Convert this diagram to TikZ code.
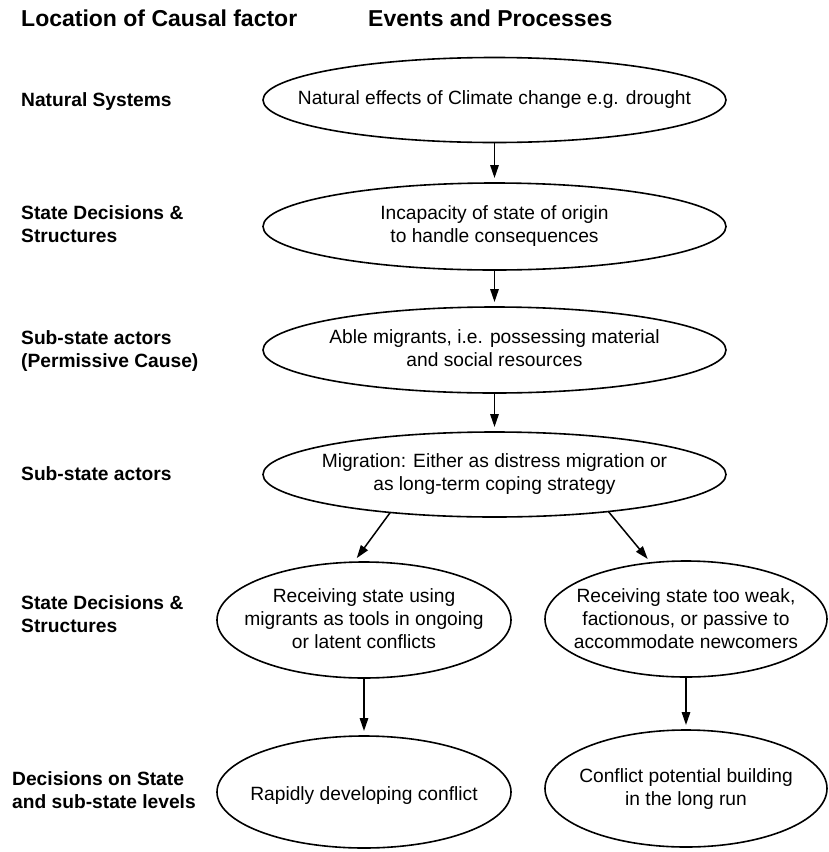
\documentclass[tikz,border=0pt]{standalone}
\usepackage{fontspec}
\setmainfont{Liberation Sans}
\usetikzlibrary{shapes.geometric,arrows.meta}
\begin{document}
\begin{tikzpicture}[x=1pt,y=-1pt,
  ev/.style={draw, ellipse, line width=1.6pt, inner sep=0pt, outer sep=0pt},
  txt/.style={align=center, inner sep=0pt, font=\fontsize{19.2}{23}\selectfont},
  lab/.style={anchor=west, align=left, inner sep=0pt, font=\fontsize{19.2}{23}\selectfont\bfseries},
  head/.style={anchor=west, inner sep=0pt, font=\fontsize{23}{27}\selectfont\bfseries},
  arr/.style={-{Triangle[length=13pt,width=8.5pt]}, line width=1.5pt, shorten >=5pt}]
\useasboundingbox (0,0) rectangle (828,852);

% headers
\node[head] (h1) at (21,18) {Location of Causal factor};
\node[head] (h2) at (368,18) {Events and Processes};

% left labels
\node[lab] (l1) at (21,102) {Natural Systems};
\node[lab] (l2) at (21,224) {State Decisions \&\\Structures};
\node[lab] (l3) at (21,351) {Sub-state actors\\(Permissive Cause)};
\node[lab] (l4) at (21,474) {Sub-state actors};
\node[lab] (l5) at (21,614.5) {State Decisions \&\\Structures};
\node[lab] (l6) at (12,790.5) {Decisions on State\\and sub-state levels};

% ellipses
\node[ev, minimum width=463pt, minimum height=85pt] (e1) at (494.5,100) {};
\node[ev, minimum width=463pt, minimum height=87pt] (e2) at (494.5,226.5) {};
\node[ev, minimum width=463pt, minimum height=86pt] (e3) at (494.5,350) {};
\node[ev, minimum width=463pt, minimum height=85pt] (e4) at (494.5,474.5) {};
\node[ev, minimum width=294pt, minimum height=116pt] (e5l) at (364,620) {};
\node[ev, minimum width=282pt, minimum height=116pt] (e5r) at (686,619) {};
\node[ev, minimum width=294pt, minimum height=112pt] (e6l) at (364,792) {};
\node[ev, minimum width=282pt, minimum height=117pt] (e6r) at (686,788.5) {};

% texts
\node[txt] (t1) at (e1) {Natural effects of Climate change e.g. drought};
\node[txt] (t2) at (e2) {Incapacity of state of origin\\to handle consequences};
\node[txt] (t3) at ([yshift=2pt]e3.center) {Able migrants, i.e. possessing material\\and social resources};
\node[txt] (t4) at (e4) {Migration: Either as distress migration or\\as long-term coping strategy};
\node[txt] (t5l) at ([yshift=1.5pt]e5l.center) {Receiving state using\\migrants as tools in ongoing\\or latent conflicts};
\node[txt] (t5r) at (e5r) {Receiving state too weak,\\factionous, or passive to\\accommodate newcomers};
\node[txt] (t6l) at ([yshift=-4pt]e6l.center) {Rapidly developing conflict};
\node[txt] (t6r) at ([yshift=-1pt]e6r.center) {Conflict potential building\\in the long run};

% connectors
\draw[arr] (e1.south) -- (e2.north);
\draw[arr] (e2.south) -- (e3.north);
\draw[arr] (e3.south) -- (e4.north);
\draw[arr] (e4.200) -- (e5l.100);
\draw[arr] (e4.-18) -- (e5r.122);
\draw[arr] (e5l.south) -- (e6l.north);
\draw[arr] (e5r.south) -- (e6r.north);
\end{tikzpicture}
\end{document}
